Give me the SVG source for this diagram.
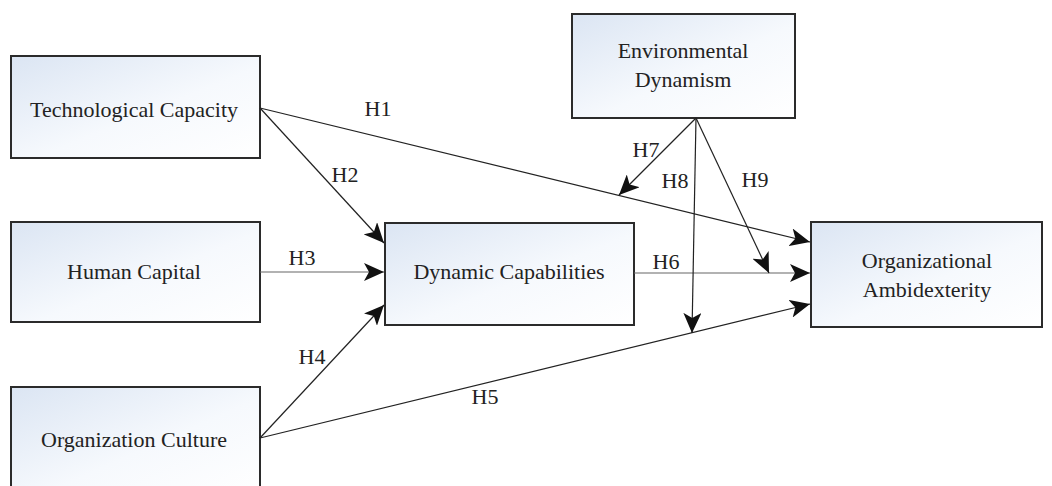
<svg xmlns="http://www.w3.org/2000/svg" width="1052" height="486" viewBox="0 0 1052 486">
<defs>
<linearGradient id="g" x1="0" y1="0" x2="1" y2="1">
<stop offset="0" stop-color="#dbe5f3"/>
<stop offset="0.55" stop-color="#f6f9fd"/>
<stop offset="1" stop-color="#ffffff"/>
</linearGradient>
<marker id="ah" viewBox="0 0 20 18" refX="20" refY="9" markerWidth="20" markerHeight="18" markerUnits="userSpaceOnUse" orient="auto">
<path d="M0,0 L20,9 L0,18 L5,9 Z" fill="#111"/>
</marker>
<style>
.box{fill:url(#g);stroke:#2b2b2b;stroke-width:2}
.t{font-size:22px;fill:#222;text-anchor:middle}
.c{stroke:#222;stroke-width:1.2;fill:none;marker-end:url(#ah)}
.g{stroke:#666}
</style>
</defs>
<g font-family="'Liberation Serif', 'Times New Roman', serif">
<g id="tech"><rect class="box" x="11" y="56" width="249" height="102"/><text class="t" x="134" y="117">Technological Capacity</text></g>
<g id="human"><rect class="box" x="11" y="222" width="249" height="100"/><text class="t" x="134" y="279">Human Capital</text></g>
<g id="culture"><rect class="box" x="11" y="387" width="249" height="110"/><text class="t" x="134" y="447">Organization Culture</text></g>
<g id="env"><rect class="box" x="572" y="14" width="223" height="104"/><text class="t" x="683" y="58">Environmental</text><text class="t" x="683" y="87">Dynamism</text></g>
<g id="dyn"><rect class="box" x="385" y="223" width="249" height="102"/><text class="t" x="509" y="279">Dynamic Capabilities</text></g>
<g id="amb"><rect class="box" x="811" y="222" width="231" height="105"/><text class="t" x="927" y="268">Organizational</text><text class="t" x="927" y="297">Ambidexterity</text></g>
<g id="connectors">
<line class="c" x1="260" y1="108" x2="810" y2="242"/>
<line class="c" x1="260" y1="108" x2="384" y2="243"/>
<line class="c g" x1="260" y1="272" x2="384" y2="272"/>
<line class="c" x1="260" y1="438" x2="384" y2="305"/>
<line class="c" x1="260" y1="438" x2="810" y2="304"/>
<line class="c g" x1="634" y1="273" x2="810" y2="273"/>
<line class="c" x1="696" y1="118" x2="619" y2="195"/>
<line class="c" x1="696" y1="118" x2="692" y2="333"/>
<line class="c" x1="696" y1="118" x2="769" y2="273"/>
</g>
<g id="labels">
<text class="t" x="378" y="116">H1</text>
<text class="t" x="345" y="182">H2</text>
<text class="t" x="302" y="265">H3</text>
<text class="t" x="312" y="364">H4</text>
<text class="t" x="485" y="404">H5</text>
<text class="t" x="666" y="269">H6</text>
<text class="t" x="646" y="157">H7</text>
<text class="t" x="675" y="188">H8</text>
<text class="t" x="755" y="187">H9</text>
</g>
</g>
</svg>
